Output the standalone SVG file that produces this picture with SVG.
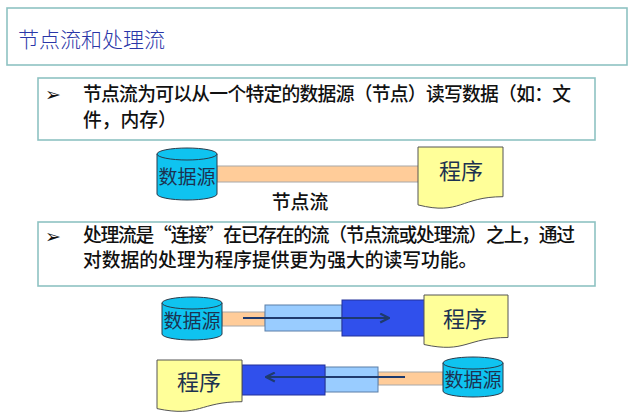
<svg xmlns="http://www.w3.org/2000/svg" width="638" height="412" viewBox="0 0 638 412">
<defs>
<style>
.box{fill:#FFFFFF;stroke:#8EC2C2;stroke-width:1.6}
.title{font-family:"Noto Sans CJK SC","Noto Sans CJK JP",sans-serif;font-size:21px;fill:#2A36A8;font-weight:300}
.body{font-family:"Noto Sans CJK SC","Noto Sans CJK JP",sans-serif;font-size:18.8px;fill:#111111;font-weight:500}
.bullet{font-family:"DejaVu Sans",sans-serif;font-size:19px;fill:#111111}
.cyl{fill:#0FC3F0;stroke:#2A3A4A;stroke-width:1}
.doc{fill:#FFFF99;stroke:#555555;stroke-width:1}
.lbl{font-family:"Noto Sans CJK SC","Noto Sans CJK JP",sans-serif;font-size:19px;fill:#1C3250;text-anchor:middle}
.lblbig{font-family:"Noto Sans CJK SC","Noto Sans CJK JP",sans-serif;font-size:22px;fill:#1C3250;text-anchor:middle}
.tan{fill:#FFCC99;stroke:#A8A8A8;stroke-width:1}
.lb{fill:#99CCFF;stroke:#5A7FA8;stroke-width:1}
.db{fill:#3050EC;stroke:#23309A;stroke-width:1}
.arr{stroke:#1E3A6E;stroke-width:2;fill:none}
</style>
<marker id="ah" viewBox="0 0 10 10" refX="9" refY="5" markerWidth="5.5" markerHeight="5.5" orient="auto" markerUnits="strokeWidth">
<path d="M1,1 L9,5 L1,9" fill="none" stroke="#1E3A6E" stroke-width="2"/>
</marker>
</defs>
<rect width="638" height="412" fill="#FFFFFF"/>

<g id="title-box">
<rect class="box" x="7" y="8" width="620" height="57"/>
<text class="title" x="18" y="47">节点流和处理流</text>
</g>

<g id="desc-node-stream">
<rect class="box" x="38" y="78" width="557" height="62"/>
<text class="bullet" x="45" y="101">➢</text>
<text class="body" x="83" y="101" textLength="488" lengthAdjust="spacing">节点流为可以从一个特定的数据源（节点）读写数据（如：文</text>
<text class="body" x="83" y="127">件，内存）</text>
</g>

<g id="desc-processing-stream">
<rect class="box" x="38" y="222" width="557" height="64"/>
<text class="bullet" x="45" y="243">➢</text>
<text class="body" x="83" y="242" textLength="492" lengthAdjust="spacing">处理流是“连接”在已存在的流（节点流或处理流）之上，通过</text>
<text class="body" x="83" y="267">对数据的处理为程序提供更为强大的读写功能。</text>
</g>

<g id="connectors">
<rect class="tan" x="217" y="166" width="203" height="16"/>
<rect class="tan" x="222" y="312" width="43" height="14"/>
<rect class="lb" x="265" y="305" width="77" height="26"/>
<rect class="db" x="342" y="300" width="83" height="36"/>
<line class="arr" x1="243" y1="318" x2="389" y2="318" marker-end="url(#ah)"/>
<rect class="tan" x="378" y="372" width="65" height="13"/>
<rect class="lb" x="325" y="367" width="53" height="25"/>
<rect class="db" x="242" y="365" width="83" height="30"/>
<line class="arr" x1="405" y1="377" x2="266" y2="377" marker-end="url(#ah)"/>
</g>
<text class="body" x="300" y="209" text-anchor="middle" font-size="17">节点流</text>

<g id="datasource-1">
<path class="cyl" d="M157,154 A30,6 0 0 1 217,154 V194 A30,6 0 0 1 157,194 Z"/>
<path class="cyl" fill="none" d="M157,154 A30,6 0 0 0 217,154"/>
<text class="lbl" x="187" y="184">数据源</text>
</g>
<g id="program-1">
<path class="doc" d="M418,147 H503 V196.7 C460.5,196.7 460.5,215.6 418,204.9 Z"/>
<text class="lblbig" x="461" y="179">程序</text>
</g>

<g id="datasource-2">
<path class="cyl" d="M162,303 A30,6 0 0 1 222,303 V334 A30,6 0 0 1 162,334 Z"/>
<path class="cyl" fill="none" d="M162,303 A30,6 0 0 0 222,303"/>
<text class="lbl" x="192" y="328">数据源</text>
</g>
<g id="program-2">
<path class="doc" d="M424,295 H508 V337.5 C466,337.5 466,353.7 424,344.5 Z"/>
<text class="lblbig" x="465" y="327">程序</text>
</g>

<g id="program-3">
<path class="doc" d="M157,360 H242 V401.7 C199.5,401.7 199.5,417.6 157,408.6 Z"/>
<text class="lblbig" x="199" y="390">程序</text>
</g>
<g id="datasource-3">
<path class="cyl" d="M443,363 A30,6 0 0 1 503,363 V391 A30,6 0 0 1 443,391 Z"/>
<path class="cyl" fill="none" d="M443,363 A30,6 0 0 0 503,363"/>
<text class="lbl" x="473" y="387">数据源</text>
</g>
</svg>
